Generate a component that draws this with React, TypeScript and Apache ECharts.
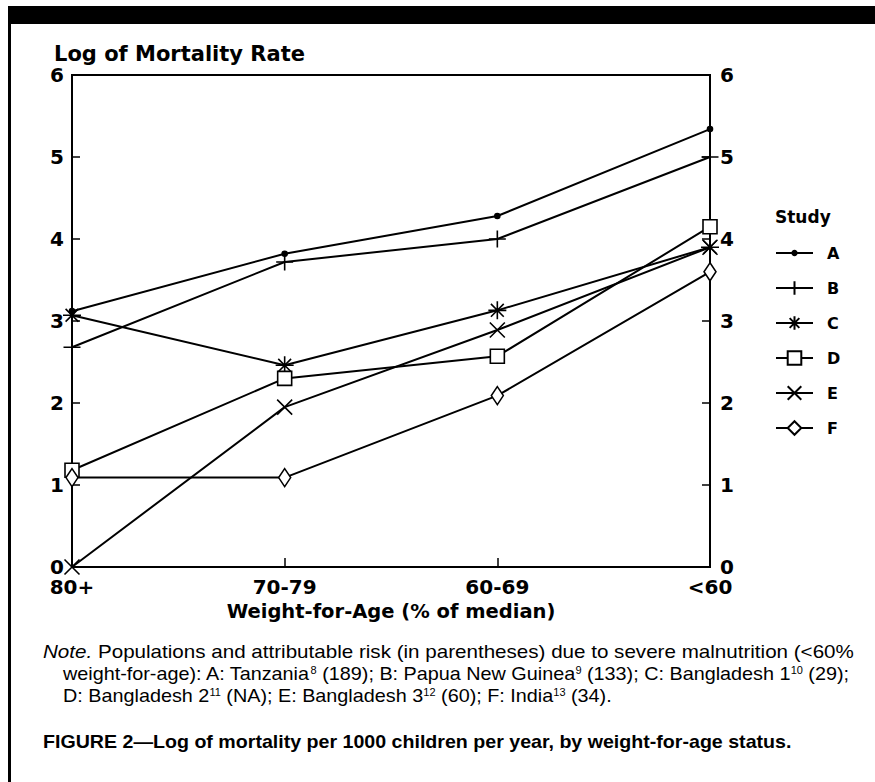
import React, { useEffect, useRef } from "react";
import * as echarts from "echarts";

const categories = ["80+", "70-79", "60-69", "<60"];
const studyA = [3.12, 3.82, 4.28, 5.34];
const studyB = [2.68, 3.72, 4.0, 5.0];
const studyC = [3.07, 2.46, 3.13, 3.9];
const studyD = [1.18, 2.3, 2.57, 4.15];
const studyE = [0, 1.95, 2.89, 3.9];
const studyF = [1.09, 1.09, 2.09, 3.6];
const studyNames = ["A", "B", "C", "D", "E", "F"];
const yTicks = [0, 1, 2, 3, 4, 5, 6];

const SANS = "'Liberation Sans', Arial, sans-serif";
const BOLD = "'DejaVu Sans', 'Liberation Sans', sans-serif";

// small dot padded inside a 16x16 box so the legend draws it small
const DOT = "path://M0,0 L0,0 M16,16 L16,16 M5.5,8 A2.5,2.5 0 1,1 10.5,8 A2.5,2.5 0 1,1 5.5,8 Z";
const PLUS = "path://M0,8 L16,8 M8,0 L8,16";
const STAR = "path://M8,0 L8,16 M0,8 L16,8 M2.3,2.3 L13.7,13.7 M13.7,2.3 L2.3,13.7";
const CROSS = "path://M0,0 L16,16 M16,0 L0,16";

export default function App() {
  const ref = useRef<HTMLDivElement>(null);
  useEffect(() => {
    if (!ref.current) return;
    const chart = echarts.init(ref.current, undefined, { renderer: "svg" });
    const mk = (
      name: string,
      data: number[],
      symbol: string,
      size: number | number[],
      fill: string
    ) => ({
      name,
      type: "line",
      data,
      symbol,
      symbolSize: size,
      showAllSymbol: true,
      z: 3,
      lineStyle: { color: "#000", width: 2 },
      itemStyle: { color: fill, borderColor: "#000", borderWidth: 1.6 },
      emphasis: { disabled: true },
    });
    const axisLabel = {
      color: "#000",
      fontFamily: BOLD,
      fontWeight: "bold" as const,
      fontSize: 20,
      lineHeight: 16,
    };
    const yAx = (position: string) => ({
      type: "value",
      position,
      min: yTicks[0],
      max: yTicks[yTicks.length - 1],
      interval: 1,
      axisLine: { show: true, lineStyle: { color: "#000", width: 2 } },
      axisTick: { show: true, inside: true, length: 8, lineStyle: { color: "#000", width: 1.5 } },
      axisLabel: { ...axisLabel, margin: position === "left" ? 8 : 10 },
      splitLine: { show: false },
    });
    chart.setOption({
      animation: false,
      backgroundColor: "#fff",
      title: {
        text: "Log of Mortality Rate",
        left: 54,
        top: 43,
        padding: 0,
        textStyle: { color: "#000", fontFamily: BOLD, fontWeight: "bold", fontSize: 21 },
      },
      grid: {
        left: 72,
        right: 875 - 710,
        top: 75,
        bottom: 782 - 567,
        show: true,
        borderColor: "#000",
        borderWidth: 2,
        containLabel: false,
      },
      legend: {
        orient: "vertical",
        left: 775,
        top: 245,
        padding: 0,
        itemWidth: 37,
        itemHeight: 17,
        itemGap: 19,
        data: studyNames,
        textStyle: {
          color: "#000",
          fontFamily: BOLD,
          fontWeight: "bold",
          fontSize: 16,
          padding: [0, 0, 0, 9],
        },
        selectedMode: false,
      },
      xAxis: {
        type: "category",
        data: categories,
        boundaryGap: false,
        axisLine: { lineStyle: { color: "#000", width: 2 } },
        axisTick: { inside: true, length: 9, alignWithLabel: true, lineStyle: { color: "#000", width: 1.5 } },
        axisLabel: { ...axisLabel, margin: 12 },
        name: "Weight-for-Age (% of median)",
        nameLocation: "middle",
        nameGap: 31,
        nameTextStyle: { color: "#000", fontFamily: BOLD, fontWeight: "bold", fontSize: 19.5 },
      },
      yAxis: [yAx("left"), yAx("right")],
      series: [
        mk("A", studyA, DOT, 16, "#000"),
        mk("B", studyB, PLUS, 17, "#000"),
        mk("C", studyC, STAR, 18, "#000"),
        mk("D", studyD, "rect", 14, "#fff"),
        mk("E", studyE, CROSS, 15, "#000"),
        mk("F", studyF, "diamond", [12, 18], "#fff"),
      ],
      graphic: [
        { type: "rect", shape: { x: 8, y: 6, width: 867, height: 18 }, style: { fill: "#000" } },
        { type: "rect", shape: { x: 8, y: 6, width: 3, height: 776 }, style: { fill: "#000" } },
        {
          type: "text",
          x: 775,
          y: 208,
          style: { text: "Study", fill: "#000", font: `bold 17px ${BOLD}` },
        },
        {
          type: "text",
          x: 43,
          y: 642,
          scaleX: 1.145,
          style: {
            text: "{i|Note.} Populations and attributable risk (in parentheses) due to severe malnutrition (<60%",
            fill: "#000",
            font: `18px ${SANS}`,
            rich: { i: { fontStyle: "italic", fontSize: 18, fontFamily: SANS } },
          },
        },
        {
          type: "text",
          x: 63,
          y: 665,
          scaleX: 1.1,
          style: {
            text: "weight-for-age): A: Tanzania{s|8} (189); B: Papua New Guinea{s|9} (133); C: Bangladesh 1{s|10} (29);",
            fill: "#000",
            font: `18px ${SANS}`,
            rich: { s: { fontSize: 10, fontFamily: SANS, padding: [0, 0, 8, 0] } },
          },
        },
        {
          type: "text",
          x: 63,
          y: 687,
          scaleX: 1.1,
          style: {
            text: "D: Bangladesh 2{s|11} (NA); E: Bangladesh 3{s|12} (60); F: India{s|13} (34).",
            fill: "#000",
            font: `18px ${SANS}`,
            rich: { s: { fontSize: 10, fontFamily: SANS, padding: [0, 0, 8, 0] } },
          },
        },
        {
          type: "text",
          x: 43,
          y: 733,
          scaleX: 1.09,
          style: {
            text: "FIGURE 2\u2014Log of mortality per 1000 children per year, by weight-for-age status.",
            fill: "#000",
            font: `bold 18px ${SANS}`,
          },
        },
      ],
    });
    return () => chart.dispose();
  }, []);
  return (
    <div
      ref={ref}
      style={{ position: "absolute", left: 0, top: 0, width: 875, height: 782 }}
    />
  );
}
